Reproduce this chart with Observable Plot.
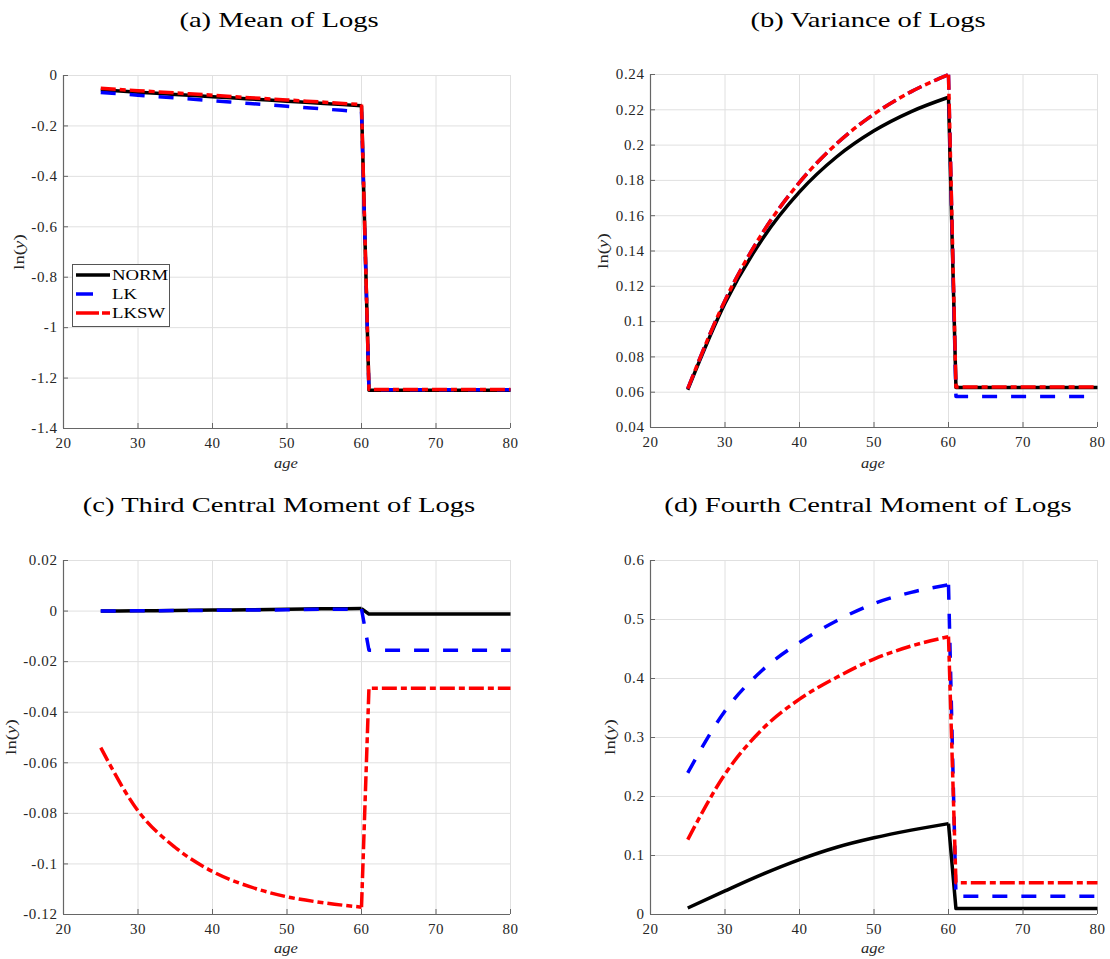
<!DOCTYPE html>
<html>
<head>
<meta charset="utf-8">
<script src="https://cdn.jsdelivr.net/npm/d3@7"></script>
<script src="https://cdn.jsdelivr.net/npm/@observablehq/plot@0.6"></script>
<style>
  html, body { margin: 0; padding: 0; background: #fff; }
  #root { position: relative; width: 1110px; height: 959px; overflow: hidden; background: #fff;
          font-family: "Liberation Serif", "DejaVu Serif", "Times New Roman", Times, serif; }
  .panel { position: absolute; }
  #overlay { position: absolute; left: 0; top: 0; pointer-events: none; }
  svg text { font-family: "Liberation Serif", "DejaVu Serif", "Times New Roman", Times, serif; }
  .panel g[aria-label$="axis tick label"] text { letter-spacing: 0.6px; }
</style>
</head>
<body>
<div id="root"></div>
<script>
// ---------------- data ----------------
const ages = [25, 30, 35, 40, 45, 50, 55, 60, 61, 80];
const seriesNames = ["NORM", "LK", "LKSW"];
const xDomain = [20, 80];
const xTicks = [20, 30, 40, 50, 60, 70, 80];
const retireAge = 60;

// (a) Mean of Logs
const meanNORM = [-0.057, -0.066, -0.075, -0.084, -0.093, -0.102, -0.111, -0.120, -1.248, -1.248];
const meanLK   = [-0.067, -0.078, -0.089, -0.100, -0.111, -0.122, -0.133, -0.144, -1.246, -1.246];
const meanLKSW = [-0.051, -0.060, -0.069, -0.078, -0.088, -0.097, -0.106, -0.115, -1.245, -1.245];
const meanDomain = [-1.4, 0];
const meanTicks = [-1.4, -1.2, -1, -0.8, -0.6, -0.4, -0.2, 0];

// (b) Variance of Logs
const varNORM = [0.0614, 0.1104, 0.1467, 0.1735, 0.1934, 0.2081, 0.2190, 0.2271, 0.0627, 0.0627];
const varLK   = [0.0620, 0.1120, 0.1500, 0.1789, 0.2009, 0.2176, 0.2303, 0.2399, 0.0576, 0.0576];
const varLKSW = [0.0620, 0.1120, 0.1500, 0.1789, 0.2009, 0.2176, 0.2303, 0.2399, 0.0630, 0.0630];
const varDomain = [0.04, 0.24];
const varTicks = [0.04, 0.06, 0.08, 0.1, 0.12, 0.14, 0.16, 0.18, 0.2, 0.22, 0.24];

// (c) Third Central Moment of Logs
const thirdNORM = [0.0000, 0.0001, 0.0002, 0.0004, 0.0005, 0.0007, 0.0009, 0.0010, -0.0012, -0.0012];
const thirdLK   = [0.0000, 0.0001, 0.0002, 0.0003, 0.0004, 0.0005, 0.0007, 0.0008, -0.0155, -0.0155];
const thirdLKSW = [-0.054, -0.0790, -0.0935, -0.1030, -0.1090, -0.1130, -0.1154, -0.1171, -0.0305, -0.0305];
const thirdDomain = [-0.12, 0.02];
const thirdTicks = [-0.12, -0.1, -0.08, -0.06, -0.04, -0.02, 0, 0.02];

// (d) Fourth Central Moment of Logs
const fourthNORM = [0.011, 0.040, 0.068, 0.093, 0.114, 0.130, 0.143, 0.154, 0.010, 0.010];
const fourthLK   = [0.240, 0.345, 0.414, 0.461, 0.498, 0.527, 0.546, 0.559, 0.031, 0.031];
const fourthLKSW = [0.127, 0.238, 0.314, 0.365, 0.402, 0.433, 0.455, 0.471, 0.054, 0.054];
const fourthDomain = [0, 0.6];
const fourthTicks = [0, 0.1, 0.2, 0.3, 0.4, 0.5, 0.6];

const titles = [
  "(a) Mean of Logs",
  "(b) Variance of Logs",
  "(c) Third Central Moment of Logs",
  "(d) Fourth Central Moment of Logs"
];
const xLabel = "age";

// ---------------- styles ----------------
const FONT = '"Liberation Serif", "DejaVu Serif", "Times New Roman", Times, serif';
const lineStyles = {
  NORM: { stroke: "#000000", dash: null },
  LK:   { stroke: "#0000ff", dash: "15,14" },
  LKSW: { stroke: "#ff0000", dash: "15,4,6,4" }
};
const AXIS = "#666666";
const GRID = "#e0e0e0";
const TEXT = "#262626";
const STRETCH = 1.3; // Computer-Modern-like wide lettering

const fmt = d => String(+(+d).toFixed(6));

function rows(values) {
  return ages.map((a, i) => ({ age: a, value: values[i] }));
}

const panels = [
  { series: [meanNORM, meanLK, meanLKSW], yDomain: meanDomain, yTicks: meanTicks, left: 0, top: 40, height: 440, mt: 35, mb: 52, ml: 63, mr: 45 },
  { series: [varNORM, varLK, varLKSW], yDomain: varDomain, yTicks: varTicks, left: 555, top: 40, height: 440, mt: 34, mb: 53, ml: 95, mr: 13 },
  { series: [thirdNORM, thirdLK, thirdLKSW], yDomain: thirdDomain, yTicks: thirdTicks, left: 0, top: 520, height: 439, mt: 40, mb: 45, ml: 63, mr: 45 },
  { series: [fourthNORM, fourthLK, fourthLKSW], yDomain: fourthDomain, yTicks: fourthTicks, left: 555, top: 520, height: 439, mt: 40, mb: 45, ml: 95, mr: 13 }
];

const root = document.getElementById("root");

panels.forEach(p => {
  const lineMarks = [];
  p.series.forEach((vals, k) => {
    const st = lineStyles[seriesNames[k]];
    const all = rows(vals);
    const common = {
      x: "age", y: "value",
      stroke: st.stroke, strokeWidth: 3.5,
      strokeDasharray: st.dash || undefined,
      strokeLinecap: "butt", strokeLinejoin: "round"
    };
    // working life: smooth curve; retirement jump and flat part: straight segments
    lineMarks.push(Plot.line(all.filter(r => r.age <= retireAge), { ...common, curve: "monotone-x" }));
    lineMarks.push(Plot.line(all.filter(r => r.age >= retireAge), { ...common, curve: "linear" }));
  });
  const chart = Plot.plot({
    width: 555,
    height: p.height,
    marginTop: p.mt, marginBottom: p.mb, marginLeft: p.ml, marginRight: p.mr,
    style: { fontFamily: FONT, fontSize: "15px", color: TEXT, background: "transparent", overflow: "visible" },
    x: { domain: xDomain, ticks: xTicks },
    y: { domain: p.yDomain, ticks: p.yTicks },
    marks: [
      Plot.gridX(xTicks, { stroke: GRID, strokeOpacity: 1 }),
      Plot.gridY(p.yTicks, { stroke: GRID, strokeOpacity: 1 }),
      Plot.ruleX([xDomain[0]], { stroke: AXIS, strokeWidth: 1.2 }),
      Plot.ruleY([p.yDomain[0]], { stroke: AXIS, strokeWidth: 1.2 }),
      ...lineMarks,
      Plot.axisX(xTicks, { tickSize: -5, tickPadding: 14, stroke: AXIS, tickFormat: fmt, fontSize: 15, label: null, fill: TEXT }),
      Plot.axisY(p.yTicks, { tickSize: -5, tickPadding: 11, stroke: AXIS, tickFormat: fmt, fontSize: 15, label: null, fill: TEXT })
    ]
  });
  chart.classList.add("panel");
  chart.style.left = p.left + "px";
  chart.style.top = p.top + "px";
  root.appendChild(chart);
});

// ---------------- overlay: titles, axis labels, legend ----------------
const svg = d3.select(root).append("svg")
  .attr("id", "overlay")
  .attr("width", 1110).attr("height", 959)
  .attr("font-family", FONT);

const titlePos = [[279, 27], [868, 27], [279, 512], [868, 512]];
titles.forEach((t, i) => {
  svg.append("text")
    .attr("transform", `translate(${titlePos[i][0]},${titlePos[i][1]}) scale(${STRETCH},1)`)
    .attr("text-anchor", "middle")
    .attr("font-size", 22)
    .attr("fill", "#000")
    .text(t);
});

const yLabPos = [[19, 252], [603, 251], [11, 737], [610, 737]];
yLabPos.forEach(([x, y]) => {
  const t = svg.append("text")
    .attr("transform", `translate(${x},${y}) rotate(-90) scale(1.25,1)`)
    .attr("text-anchor", "middle").attr("dy", "0.35em")
    .attr("font-size", 15).attr("fill", TEXT);
  t.append("tspan").text("ln(");
  t.append("tspan").attr("font-style", "italic").text("y");
  t.append("tspan").text(")");
});

const xLabPos = [[286, 463], [873, 463], [286, 948], [873, 948]];
xLabPos.forEach(([x, y]) => {
  svg.append("text")
    .attr("transform", `translate(${x},${y}) scale(1.1,1)`)
    .attr("dy", "0.35em")
    .attr("text-anchor", "middle")
    .attr("font-size", 15).attr("font-style", "italic")
    .attr("fill", TEXT)
    .text(xLabel);
});

// legend in panel (a)
const lg = svg.append("g");
lg.append("rect").attr("x", 72.5).attr("y", 264.5).attr("width", 97).attr("height", 62)
  .attr("fill", "#fff").attr("stroke", "#555").attr("stroke-width", 1);
const legendDash = { NORM: null, LK: "17,30", LKSW: "23,3,8,30" };
seriesNames.forEach((name, i) => {
  const y = 275 + i * 19;
  lg.append("line").attr("x1", 76).attr("x2", 110).attr("y1", y).attr("y2", y)
    .attr("stroke", lineStyles[name].stroke).attr("stroke-width", 3.5)
    .attr("stroke-dasharray", legendDash[name]);
  lg.append("text")
    .attr("transform", `translate(112,${y + 5}) scale(1.25,1)`)
    .attr("font-size", 15).attr("fill", "#000").text(name);
});
</script>
</body>
</html>
